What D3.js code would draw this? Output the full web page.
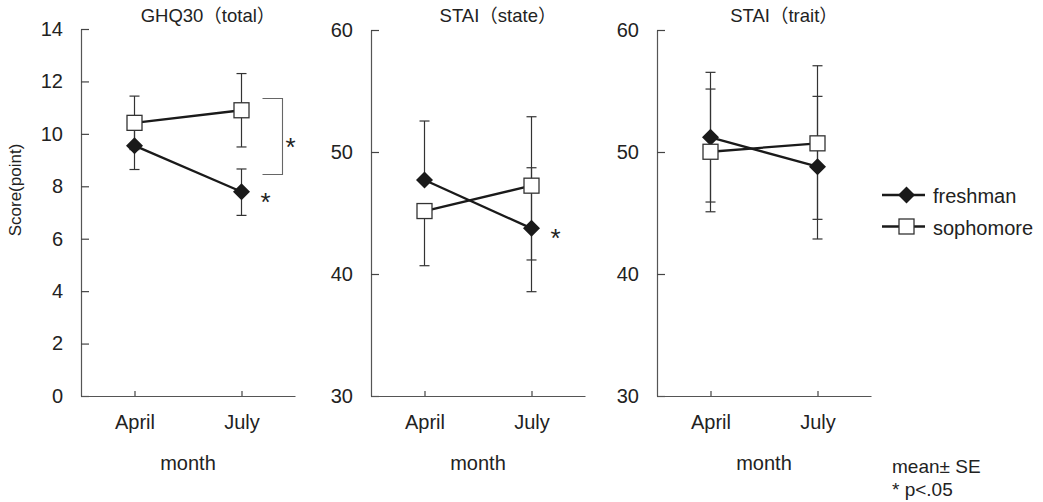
<!DOCTYPE html>
<html>
<head>
<meta charset="utf-8">
<script src="https://cdn.jsdelivr.net/npm/d3@7/dist/d3.min.js"></script>
<style>
  body { margin: 0; background: #fff; }
  text { font-family: "Liberation Sans", Arial, "Noto Sans CJK JP", sans-serif; fill: #222; }
</style>
</head>
<body>
<div id="chart"></div>
<script>
var width = 1043,
    height = 502;

// data
var months = ["April", "July"];
var titles = ["GHQ30（total）", "STAI（state）", "STAI（trait）"];
var yDomains = [[0, 14], [30, 60], [30, 60]];
var yTicks = [[0, 2, 4, 6, 8, 10, 12, 14], [30, 40, 50, 60], [30, 40, 50, 60]];

var freshmanMean  = [[9.55, 7.79], [47.7, 43.74], [51.2, 48.8]];
var freshmanUp    = [[0.91, 0.87], [4.84, 4.97], [5.33, 5.76]];
var freshmanDown  = [[0.91, 0.90], [0, 5.19], [5.30, 5.93]];
var sophomoreMean = [[10.42, 10.9], [45.16, 47.24], [50.02, 50.71]];
var sophomoreUp   = [[1.02, 1.40], [0, 5.65], [5.14, 6.36]];
var sophomoreDown = [[1.02, 1.40], [4.48, 6.09], [4.92, 6.23]];

// significance marks: [panel, month index] for freshman, bracket in panel 0
var starPoints = [[0, 1], [1, 1]];
var bracketRange = [11.35, 8.45];

var axisX = [81, 371, 657],
    plotW = 214,
    yTop = [29, 30, 30],
    yBottom = 396;

var svg = d3.select("#chart")
    .append("svg")
    .attr("width", width)
    .attr("height", height)
    .style("background", "#fff");

var series = [
  {name: "freshman", mean: freshmanMean, up: freshmanUp, down: freshmanDown, shape: "diamond"},
  {name: "sophomore", mean: sophomoreMean, up: sophomoreUp, down: sophomoreDown, shape: "square"}
];

function drawMarker(g, shape, x, y) {
  if (shape == "diamond") {
    g.append("path")
      .attr("d", "M" + x + "," + (y - 8.5) + "L" + (x + 8.5) + "," + y + "L" + x + "," + (y + 8.5) + "L" + (x - 8.5) + "," + y + "Z")
      .attr("fill", "#1a1a1a");
  } else {
    g.append("rect")
      .attr("x", x - 7.5).attr("y", y - 7.5)
      .attr("width", 15).attr("height", 15)
      .attr("fill", "#fff")
      .attr("stroke", "#333")
      .attr("stroke-width", 1.3);
  }
}

function star(g, x, yc) {
  g.append("text")
    .attr("x", x)
    .attr("y", yc + 15)
    .attr("text-anchor", "middle")
    .style("font-size", "26px")
    .text("*");
}

titles.forEach(function(title, p) {
  var x0 = axisX[p];
  var x = d3.scalePoint().domain(months).range([x0, x0 + plotW]).padding(0.5);
  var y = d3.scaleLinear().domain(yDomains[p]).range([yBottom, yTop[p]]);
  var g = svg.append("g");

  // y axis, ticks pointing inward
  var ya = g.append("g")
      .attr("transform", "translate(" + x0 + ",0)")
      .call(d3.axisLeft(y).tickValues(yTicks[p]).tickSizeInner(-8).tickSizeOuter(0).tickPadding(18));
  // x axis, ticks pointing up
  var xa = g.append("g")
      .attr("transform", "translate(0," + yBottom + ")")
      .call(d3.axisBottom(x).tickSizeInner(-5).tickSizeOuter(0).tickPadding(19));

  [ya, xa].forEach(function(a) {
    a.select(".domain").attr("stroke", "#555").attr("stroke-width", 1.2);
    a.selectAll(".tick line").attr("stroke", "#444").attr("stroke-width", 1.2);
    a.selectAll("text").style("font-size", "20px").attr("fill", "#222");
  });

  g.append("text")
    .attr("x", x0 + plotW / 2)
    .attr("y", 470)
    .attr("text-anchor", "middle")
    .style("font-size", "20px")
    .text("month");

  g.append("text")
    .attr("x", x0 + 127)
    .attr("y", 22)
    .attr("text-anchor", "middle")
    .style("font-size", "18.5px")
    .text(title);

  // error bars
  series.forEach(function(s) {
    months.forEach(function(m, i) {
      var cx = x(m), v = s.mean[p][i];
      var hi = v + s.up[p][i], lo = v - s.down[p][i];
      g.append("line")
        .attr("x1", cx).attr("x2", cx)
        .attr("y1", y(hi)).attr("y2", y(lo))
        .attr("stroke", "#333").attr("stroke-width", 1.2);
      if (s.up[p][i] > 0)
        g.append("line").attr("x1", cx - 5).attr("x2", cx + 5)
          .attr("y1", y(hi)).attr("y2", y(hi))
          .attr("stroke", "#333").attr("stroke-width", 1.2);
      if (s.down[p][i] > 0)
        g.append("line").attr("x1", cx - 5).attr("x2", cx + 5)
          .attr("y1", y(lo)).attr("y2", y(lo))
          .attr("stroke", "#333").attr("stroke-width", 1.2);
    });
  });

  // lines
  var line = d3.line()
      .x(function(d, i) { return x(months[i]); })
      .y(function(d) { return y(d); });
  series.forEach(function(s) {
    g.append("path")
      .attr("d", line(s.mean[p]))
      .attr("fill", "none")
      .attr("stroke", "#1a1a1a")
      .attr("stroke-width", 2.3);
  });

  // markers
  series.forEach(function(s) {
    months.forEach(function(m, i) {
      drawMarker(g, s.shape, x(m), y(s.mean[p][i]));
    });
  });

  // stars next to freshman points
  starPoints.forEach(function(sp) {
    if (sp[0] != p) return;
    star(g, x(months[sp[1]]) + 24, y(freshmanMean[p][sp[1]]) + 4);
  });

  // bracket between groups in July
  if (p == 0) {
    var bx = x(months[1]) + 21;
    g.append("path")
      .attr("d", "M" + bx + "," + y(bracketRange[0]) + "H" + (bx + 20) + "V" + y(bracketRange[1]) + "H" + bx)
      .attr("fill", "none")
      .attr("stroke", "#666")
      .attr("stroke-width", 1.1);
    star(g, bx + 28, (y(bracketRange[0]) + y(bracketRange[1])) / 2 + 5);
  }
});

// y label
svg.append("text")
  .attr("transform", "translate(21,190) rotate(-90)")
  .attr("text-anchor", "middle")
  .style("font-size", "17px")
  .text("Score(point)");

// legend
var legend = svg.append("g");
series.forEach(function(s, i) {
  var ly = 195 + i * 31.5;
  legend.append("line")
    .attr("x1", 882).attr("x2", 925)
    .attr("y1", ly).attr("y2", ly)
    .attr("stroke", "#1a1a1a").attr("stroke-width", 2.3);
  drawMarker(legend, s.shape, 906.5, ly);
  legend.append("text")
    .attr("x", 933)
    .attr("y", ly + 8)
    .style("font-size", "20px")
    .text(s.name);
});

svg.append("text")
  .attr("x", 892).attr("y", 473)
  .style("font-size", "19px")
  .text("mean± SE");
svg.append("text")
  .attr("x", 892).attr("y", 496)
  .style("font-size", "19px")
  .text("* p<.05");
</script>
</body>
</html>
